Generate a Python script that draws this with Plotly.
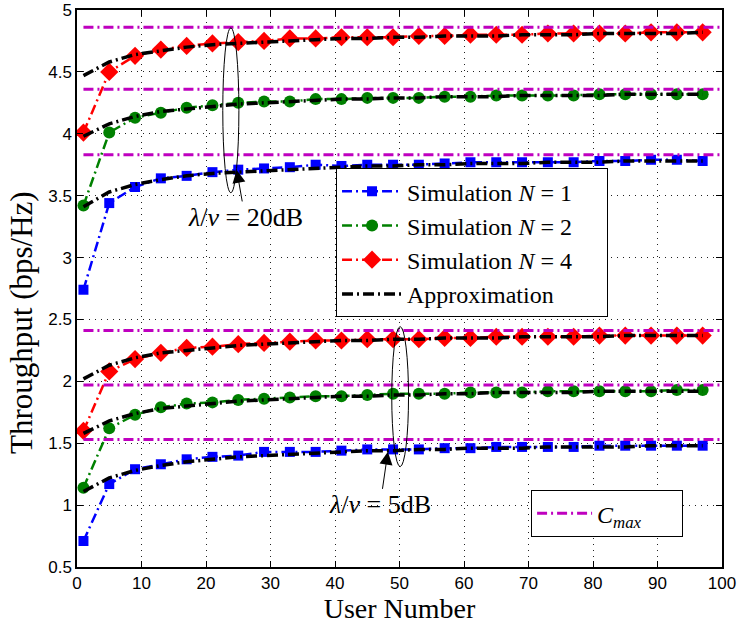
import plotly.graph_objects as go

users = [1, 5, 9, 13, 17, 21, 25, 29, 33, 37, 41, 45, 49, 53, 57, 61, 65, 69, 73, 77, 81, 85, 89, 93, 97]

# lambda/nu = 20 dB
sim20_n1 = [2.74, 3.44, 3.57, 3.64, 3.66, 3.69, 3.71, 3.72, 3.73, 3.75, 3.74, 3.75, 3.75, 3.75, 3.76, 3.77, 3.77, 3.77, 3.77, 3.77, 3.78, 3.78, 3.79, 3.79, 3.78]
sim20_n2 = [3.42, 4.01, 4.13, 4.17, 4.21, 4.23, 4.25, 4.26, 4.26, 4.28, 4.28, 4.29, 4.29, 4.29, 4.30, 4.30, 4.31, 4.31, 4.31, 4.31, 4.32, 4.32, 4.32, 4.32, 4.32]
sim20_n4 = [4.01, 4.50, 4.63, 4.68, 4.71, 4.73, 4.74, 4.75, 4.77, 4.77, 4.78, 4.78, 4.78, 4.79, 4.79, 4.80, 4.80, 4.80, 4.81, 4.81, 4.81, 4.81, 4.82, 4.82, 4.82]
app20_n1 = [3.41, 3.53, 3.59, 3.63, 3.66, 3.68, 3.69, 3.70, 3.71, 3.72, 3.73, 3.74, 3.74, 3.75, 3.75, 3.76, 3.76, 3.76, 3.77, 3.77, 3.77, 3.78, 3.78, 3.78, 3.78]
app20_n2 = [3.98, 4.08, 4.14, 4.18, 4.20, 4.22, 4.24, 4.25, 4.26, 4.27, 4.28, 4.28, 4.29, 4.29, 4.30, 4.30, 4.30, 4.31, 4.31, 4.31, 4.31, 4.32, 4.32, 4.32, 4.32]
app20_n4 = [4.47, 4.58, 4.64, 4.67, 4.70, 4.72, 4.73, 4.74, 4.75, 4.76, 4.77, 4.77, 4.78, 4.78, 4.79, 4.79, 4.79, 4.80, 4.80, 4.80, 4.81, 4.81, 4.81, 4.81, 4.82]

# lambda/nu = 5 dB
sim5_n1 = [0.71, 1.17, 1.29, 1.33, 1.37, 1.39, 1.40, 1.43, 1.43, 1.43, 1.44, 1.45, 1.45, 1.45, 1.46, 1.46, 1.47, 1.47, 1.47, 1.47, 1.48, 1.48, 1.48, 1.48, 1.48]
sim5_n2 = [1.14, 1.62, 1.73, 1.79, 1.82, 1.83, 1.85, 1.86, 1.87, 1.88, 1.88, 1.89, 1.90, 1.90, 1.90, 1.91, 1.91, 1.91, 1.92, 1.92, 1.92, 1.92, 1.92, 1.93, 1.93]
sim5_n4 = [1.60, 2.08, 2.18, 2.23, 2.27, 2.28, 2.30, 2.31, 2.32, 2.33, 2.33, 2.34, 2.34, 2.34, 2.35, 2.35, 2.36, 2.36, 2.36, 2.36, 2.37, 2.37, 2.37, 2.37, 2.37]
app5_n1 = [1.11, 1.22, 1.28, 1.32, 1.35, 1.37, 1.39, 1.40, 1.41, 1.42, 1.43, 1.44, 1.44, 1.45, 1.45, 1.46, 1.46, 1.46, 1.47, 1.47, 1.47, 1.47, 1.48, 1.48, 1.48]
app5_n2 = [1.58, 1.68, 1.74, 1.78, 1.80, 1.82, 1.84, 1.85, 1.86, 1.87, 1.88, 1.88, 1.89, 1.89, 1.90, 1.90, 1.91, 1.91, 1.91, 1.91, 1.92, 1.92, 1.92, 1.92, 1.92]
app5_n4 = [2.02, 2.13, 2.19, 2.23, 2.25, 2.27, 2.29, 2.30, 2.31, 2.32, 2.33, 2.33, 2.34, 2.34, 2.35, 2.35, 2.35, 2.36, 2.36, 2.36, 2.36, 2.37, 2.37, 2.37, 2.37]

cmax_values = [4.86, 4.36, 3.83, 2.41, 1.97, 1.53]
cmax_x = [1, 100]

sim_names = ["Simulation <i>N</i> = 1", "Simulation <i>N</i> = 2", "Simulation <i>N</i> = 4"]
approx_name = "Approximation"
cmax_name = "<i>C</i><sub><i>max</i></sub>"
annot_20 = "<i>λ</i>/<i>ν</i> = 20dB"
annot_5 = "<i>λ</i>/<i>ν</i> = 5dB"
x_title = "User Number"
y_title = "Throughput (bps/Hz)"
x_ticks = [0, 10, 20, 30, 40, 50, 60, 70, 80, 90, 100]
y_ticks = [0.5, 1, 1.5, 2, 2.5, 3, 3.5, 4, 4.5, 5]

SERIF = "Liberation Serif, DejaVu Serif, serif"
SANS = "Liberation Sans, Arial, sans-serif"
NB = "\u00a0"

fig = go.Figure()

styles = [
    dict(color="#0000ff", symbol="square", size=10),
    dict(color="#008000", symbol="circle", size=12),
    dict(color="#ff0000", symbol="diamond", size=14),
]
sim_sets = [(sim20_n1, sim5_n1), (sim20_n2, sim5_n2), (sim20_n4, sim5_n4)]

# simulation curves
for (s20, s5), st, name in zip(sim_sets, styles, sim_names):
    for k, ys in enumerate((s20, s5)):
        fig.add_trace(go.Scatter(
            x=users, y=ys, mode="lines+markers", name=name + NB * 5,
            legend="legend", showlegend=(k == 0), legendrank=1,
            line=dict(color=st["color"], width=2.5, dash="10px,4px,2px,4px"),
            marker=dict(color=st["color"], symbol=st["symbol"], size=st["size"],
                        line=dict(width=0)),
        ))

# approximation curves
for i, ys in enumerate([app20_n1, app20_n2, app20_n4, app5_n1, app5_n2, app5_n4]):
    fig.add_trace(go.Scatter(
        x=users, y=ys, mode="lines", name=approx_name,
        legend="legend", showlegend=(i == 0), legendrank=2,
        line=dict(color="black", width=3.5, dash="11px,4px,2px,4px"),
    ))

# C_max lines
for i, c in enumerate(cmax_values):
    fig.add_trace(go.Scatter(
        x=cmax_x, y=[c, c], mode="lines", name=cmax_name + NB * 6,
        legend="legend2", showlegend=(i == 0),
        line=dict(color="#bf00bf", width=3, dash="10px,4px,2px,4px"),
    ))

axis_common = dict(
    showline=True, linecolor="black", linewidth=1.5, mirror="ticks",
    ticks="inside", ticklen=6, tickcolor="black", tickwidth=1,
    showgrid=True, gridcolor="#222222", gridwidth=1, griddash="1px,5px",
    zeroline=False, automargin=False,
    tickfont=dict(family=SANS, size=17, color="black"),
)

fig.update_xaxes(range=[0, 100], tickvals=x_ticks, **axis_common,
                 title=dict(text=x_title, font=dict(family=SERIF, size=28, color="black"), standoff=0))
fig.update_yaxes(range=[0.5, 5], tickvals=y_ticks, ticktext=[f"{v:g}" for v in y_ticks], **axis_common)

fig.update_layout(
    width=738, height=626,
    margin=dict(l=77, r=16, t=10, b=59),
    paper_bgcolor="white", plot_bgcolor="white",
    legend=dict(x=0.4016, y=0.716, xanchor="left", yanchor="top",
                bgcolor="white", bordercolor="black", borderwidth=1,
                font=dict(family=SERIF, size=24, color="black"),
                itemwidth=60, tracegroupgap=0),
    legend2=dict(x=0.704, y=0.138, xanchor="left", yanchor="top",
                 bgcolor="white", bordercolor="black", borderwidth=1,
                 font=dict(family=SERIF, size=24, color="black"),
                 itemwidth=55),
    shapes=[
        dict(type="circle", xref="x", yref="y", x0=22.6, x1=25.1, y0=3.524, y1=4.855,
             line=dict(color="black", width=1)),
        dict(type="circle", xref="x", yref="y", x0=48.8, x1=51.4, y0=1.311, y1=2.442,
             line=dict(color="black", width=1)),
    ],
    annotations=[
        dict(x=-0.0853, y=0.44, xref="paper", yref="paper", text=y_title, textangle=-90,
             showarrow=False, xanchor="center", yanchor="middle",
             font=dict(family=SERIF, size=31, color="black")),
        dict(x=24.76, y=3.708, ax=26.05, ay=3.324, xref="x", yref="y", axref="x", ayref="y",
             text=annot_20, showarrow=True, arrowhead=2, arrowsize=2.6, arrowwidth=1,
             arrowcolor="black", font=dict(family=SERIF, size=26, color="black")),
        dict(x=48.2, y=1.432, ax=47.0, ay=1.002, xref="x", yref="y", axref="x", ayref="y",
             text=annot_5, showarrow=True, arrowhead=2, arrowsize=2.6, arrowwidth=1,
             arrowcolor="black", font=dict(family=SERIF, size=26, color="black")),
    ],
)

fig.write_html("out.html")
